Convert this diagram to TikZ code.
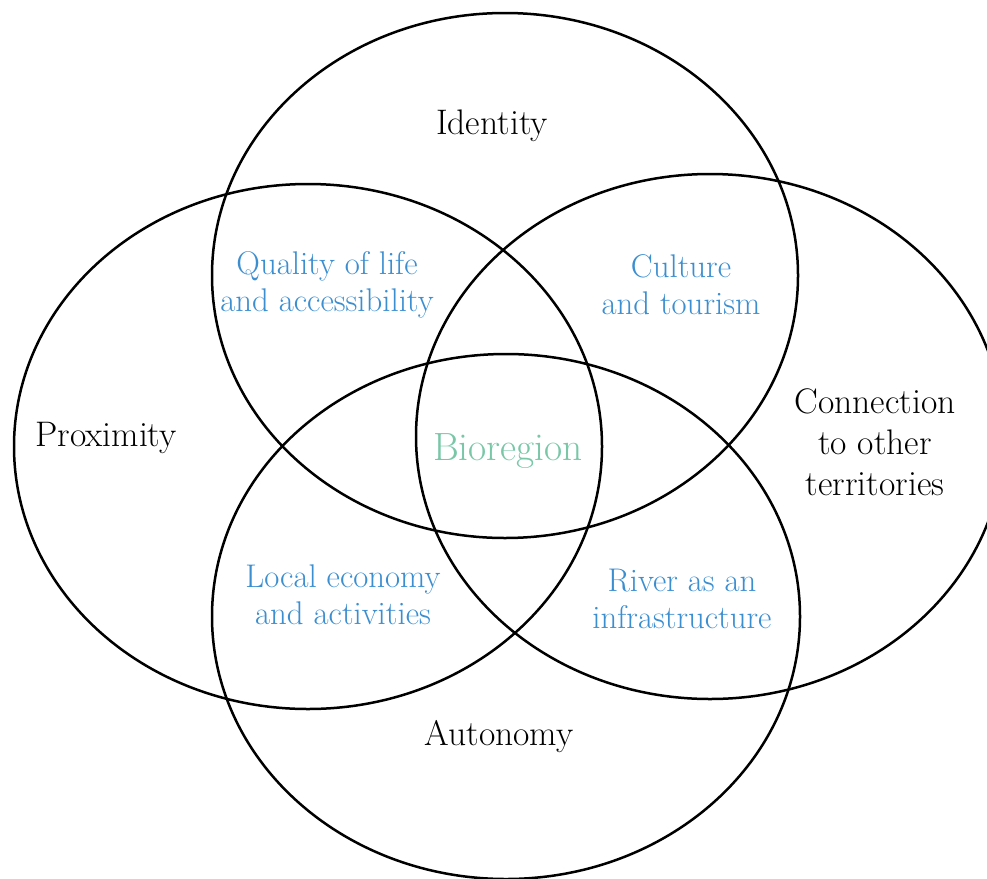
\documentclass[tikz,border=0pt]{standalone}
\definecolor{lblblue}{RGB}{59,142,208}
\definecolor{biogreen}{RGB}{122,199,168}
\tikzset{
  venn/.style={draw=black, line width=2.5pt},
  mainlbl/.style={text=black, align=center, font=\fontsize{35.5}{41}\selectfont, inner sep=0pt},
  sublbl/.style={text=lblblue, align=center, font=\fontsize{32.8}{37}\selectfont, inner sep=0pt},
  biolbl/.style={text=biogreen, align=center, font=\fontsize{39.4}{42}\selectfont, inner sep=0pt}
}
\begin{document}
\begin{tikzpicture}[x=1pt,y=-1pt]
\useasboundingbox (0,0) rectangle (987,878);
\clip (0,0) rectangle (987,878);
\draw[venn] (505,275.5) ellipse [x radius=293, y radius=262.5];
\draw[venn] (308,446.5) ellipse [x radius=294, y radius=262.5];
\draw[venn] (710,436.5) ellipse [x radius=294, y radius=262.5];
\draw[venn] (506,616.5) ellipse [x radius=294, y radius=262.5];
\node[mainlbl] (identity) at (492,126) {Identity};
\node[mainlbl] (proximity) at (106,438) {Proximity};
\node[mainlbl] (connection) at (875,442) {Connection\\to other\\territories};
\node[mainlbl] (autonomy) at (499,737) {Autonomy};
\node[sublbl] (quality) at (327,285) {Quality of life\\and accessibility};
\node[sublbl] (culture) at (681,285) {Culture\\and tourism};
\node[sublbl] (local) at (343,595) {Local economy\\and activities};
\node[sublbl] (river) at (682,599) {River as an\\infrastructure};
\node[biolbl] (bio) at (508,451) {Bioregion};
\end{tikzpicture}
\end{document}
